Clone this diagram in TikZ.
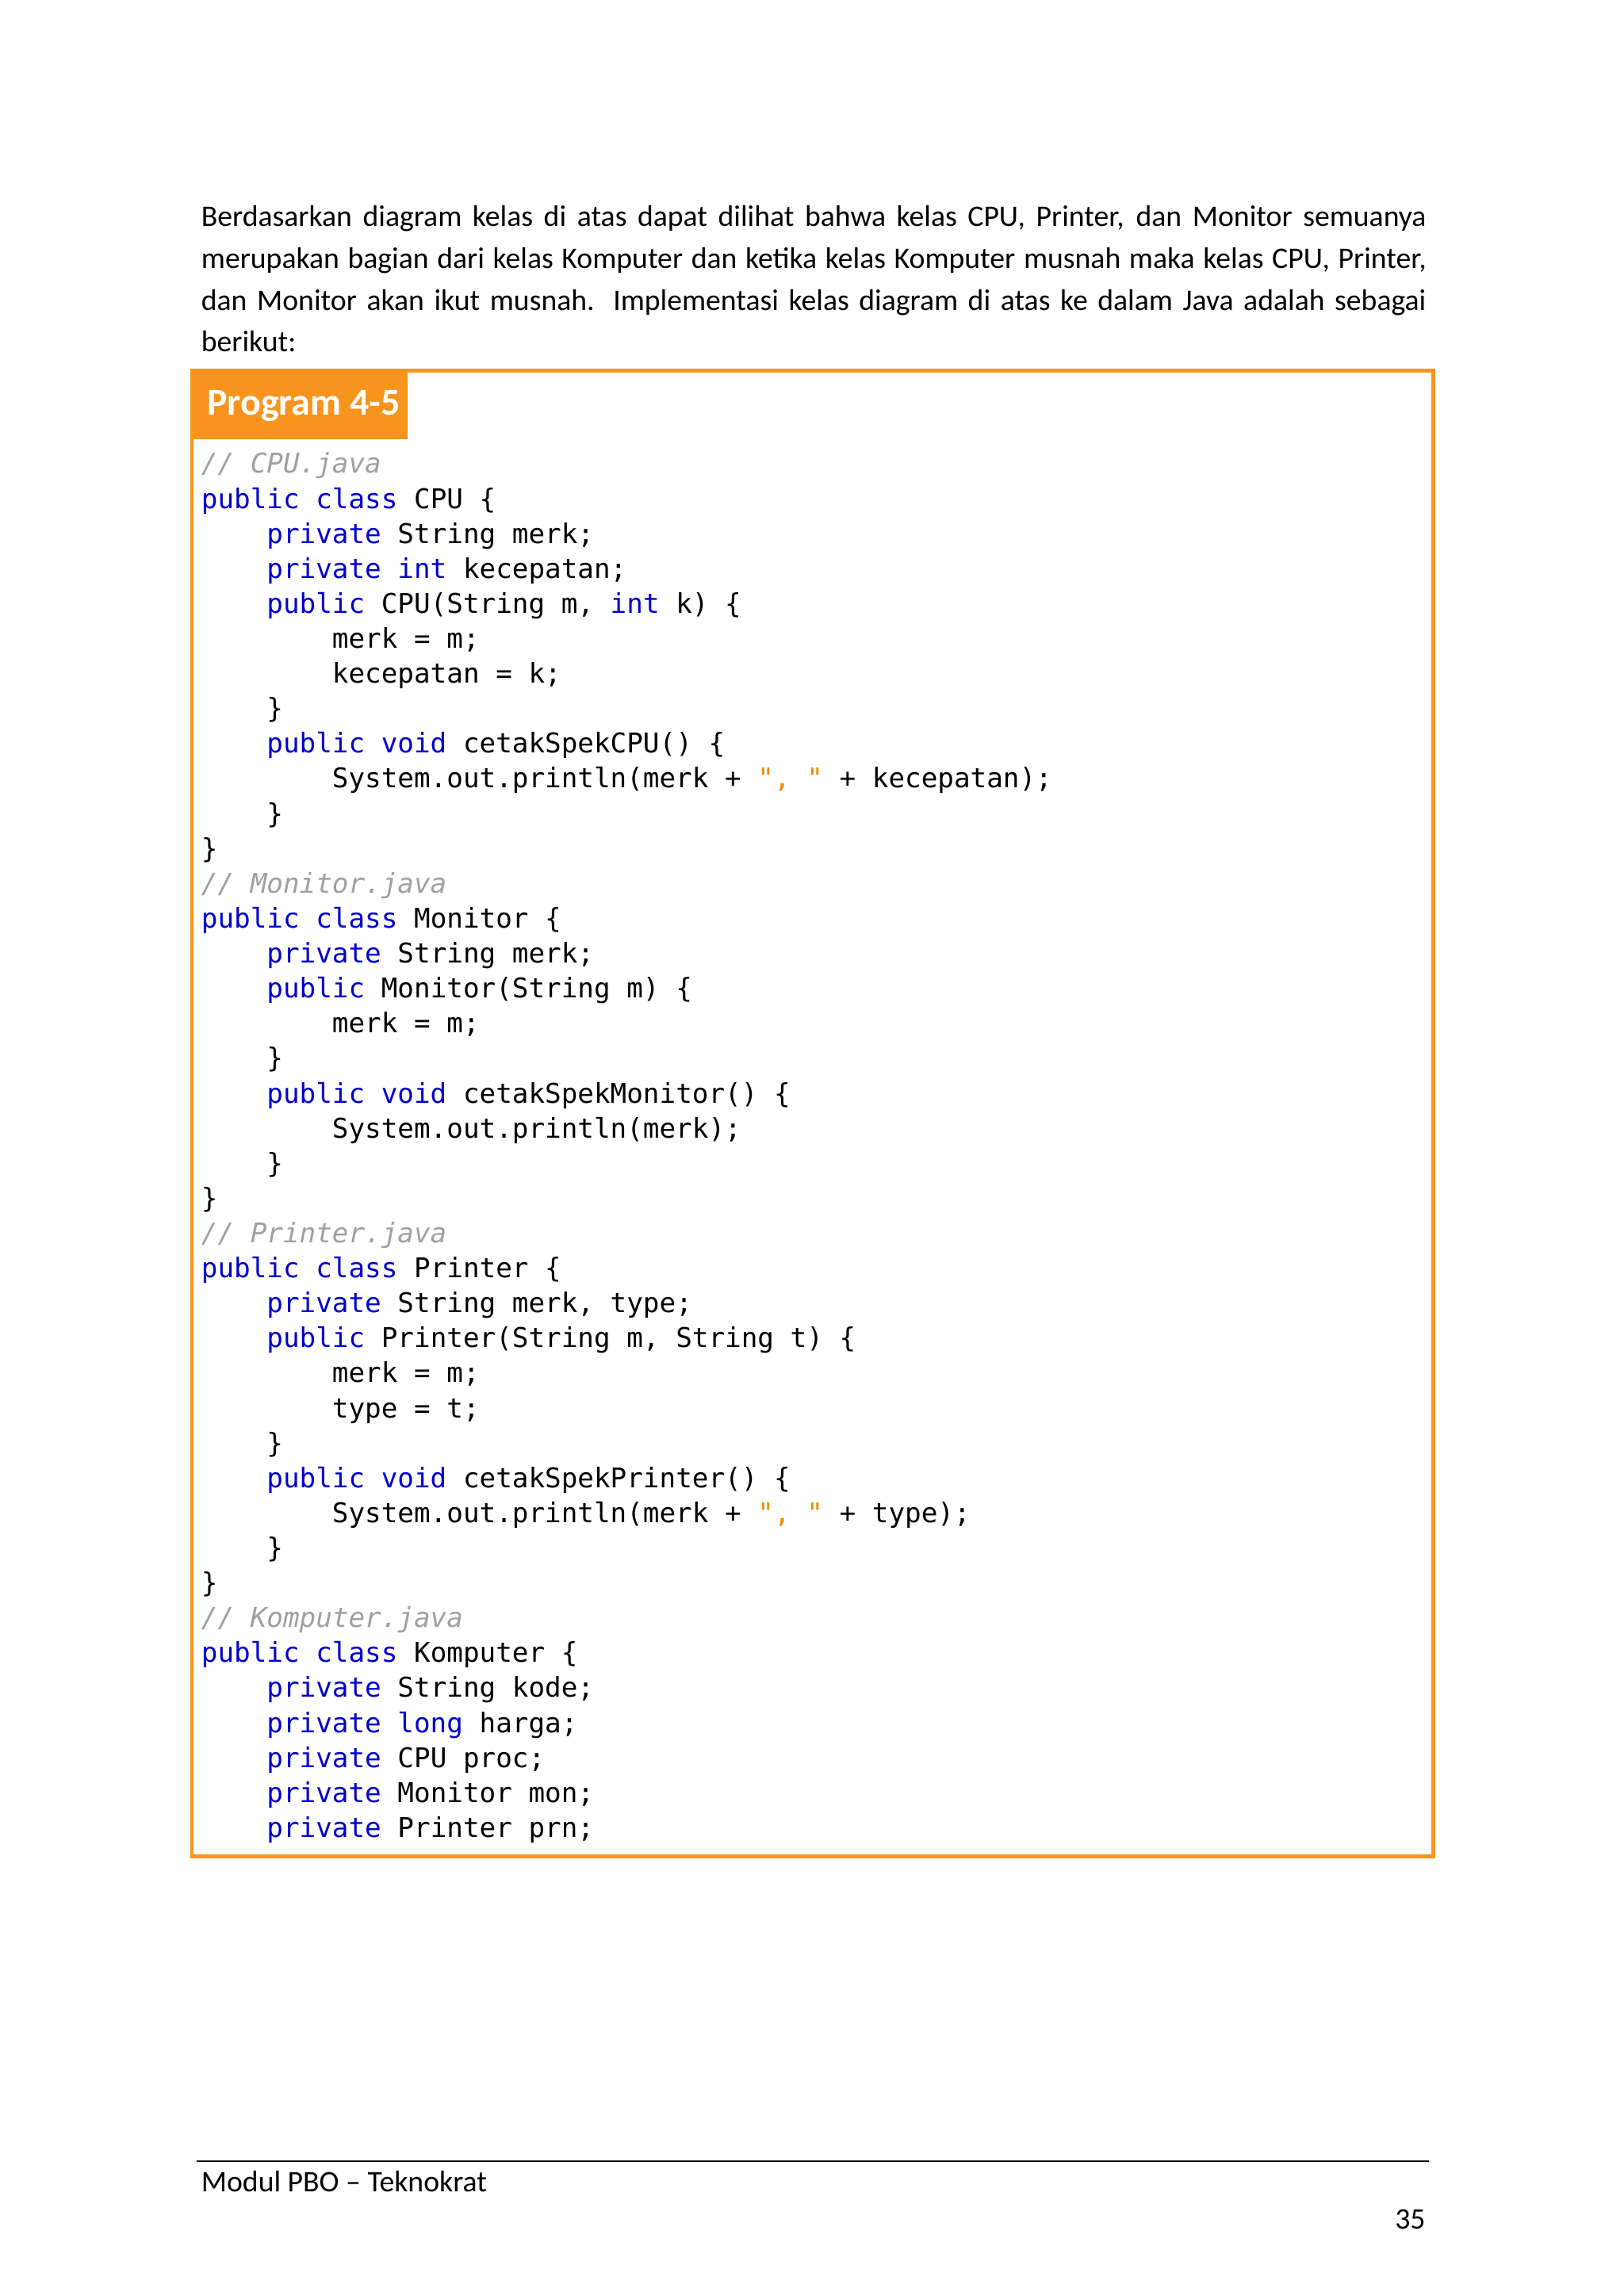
\documentclass[tikz,border=0pt]{standalone}
\usepackage{fontspec}
\setmainfont{Carlito}
\newfontfamily\codefont{DejaVu Sans Mono}
\definecolor{kw}{RGB}{0,0,205}
\definecolor{cm}{RGB}{160,160,160}
\definecolor{st}{RGB}{240,140,0}
\definecolor{org}{RGB}{247,148,29}
\newcommand\K[1]{\textcolor{kw}{#1}}
\newcommand\CM[1]{\textcolor{cm}{\itshape #1}}
\newcommand\ST[1]{\textcolor{st}{#1}}
\newcommand\IA{\hspace*{24.08pt}}
\newcommand\IB{\hspace*{48.16pt}}
\newcommand\codeln[2]{\node[codestyle] (l#1) at (137,{-323-(#1-1)*23.87}) {#2};}
\begin{document}
\begin{tikzpicture}[x=0.01895cm,y=0.01895cm,
  codestyle/.style={anchor=base west,inner sep=0pt,font=\codefont\fontsize{10}{12}\selectfont},
  bodytxt/.style={anchor=north west,inner sep=0pt,text width=15.84cm,align=justify,font=\fontsize{11}{15.4}\selectfont}]
\useasboundingbox (0,0) rectangle (1108,-1567);
\node[bodytxt] (para) at (137,-140) {Berdasarkan diagram kelas di atas dapat dilihat bahwa kelas CPU, Printer, dan Monitor semuanya\linebreak merupakan bagian dari kelas Komputer dan ketika kelas Komputer musnah maka kelas CPU, Printer,\linebreak dan Monitor akan ikut musnah. Implementasi kelas diagram di atas ke dalam Java adalah sebagai\linebreak berikut:};
\draw[org,line width=1.3pt] (131,-253) rectangle (978,-1267);
\fill[org] (131,-253) rectangle (278,-300);
\node[anchor=west,text=white,font=\bfseries\fontsize{14}{16}\selectfont,inner sep=0pt] (title) at (141,-277) {Program 4-5};
\codeln{1}{\CM{// CPU.java}}
\codeln{2}{\K{public class} CPU \{}
\codeln{3}{\IA\K{private} String merk;}
\codeln{4}{\IA\K{private int} kecepatan;}
\codeln{5}{\IA\K{public} CPU(String m, \K{int} k) \{}
\codeln{6}{\IB merk = m;}
\codeln{7}{\IB kecepatan = k;}
\codeln{8}{\IA\}}
\codeln{9}{\IA\K{public void} cetakSpekCPU() \{}
\codeln{10}{\IB System.out.println(merk + \ST{", "} + kecepatan);}
\codeln{11}{\IA\}}
\codeln{12}{\}}
\codeln{13}{\CM{// Monitor.java}}
\codeln{14}{\K{public class} Monitor \{}
\codeln{15}{\IA\K{private} String merk;}
\codeln{16}{\IA\K{public} Monitor(String m) \{}
\codeln{17}{\IB merk = m;}
\codeln{18}{\IA\}}
\codeln{19}{\IA\K{public void} cetakSpekMonitor() \{}
\codeln{20}{\IB System.out.println(merk);}
\codeln{21}{\IA\}}
\codeln{22}{\}}
\codeln{23}{\CM{// Printer.java}}
\codeln{24}{\K{public class} Printer \{}
\codeln{25}{\IA\K{private} String merk, type;}
\codeln{26}{\IA\K{public} Printer(String m, String t) \{}
\codeln{27}{\IB merk = m;}
\codeln{28}{\IB type = t;}
\codeln{29}{\IA\}}
\codeln{30}{\IA\K{public void} cetakSpekPrinter() \{}
\codeln{31}{\IB System.out.println(merk + \ST{", "} + type);}
\codeln{32}{\IA\}}
\codeln{33}{\}}
\codeln{34}{\CM{// Komputer.java}}
\codeln{35}{\K{public class} Komputer \{}
\codeln{36}{\IA\K{private} String kode;}
\codeln{37}{\IA\K{private long} harga;}
\codeln{38}{\IA\K{private} CPU proc;}
\codeln{39}{\IA\K{private} Monitor mon;}
\codeln{40}{\IA\K{private} Printer prn;}
\draw[line width=0.6pt] (134,-1475) -- (975,-1475);
\node[anchor=base west,inner sep=0pt,font=\fontsize{11}{13}\selectfont] (foot) at (137,-1496) {Modul PBO -- Teknokrat};
\node[anchor=base east,inner sep=0pt,font=\fontsize{11}{13}\selectfont] (page) at (973,-1521) {35};
\end{tikzpicture}
\end{document}
